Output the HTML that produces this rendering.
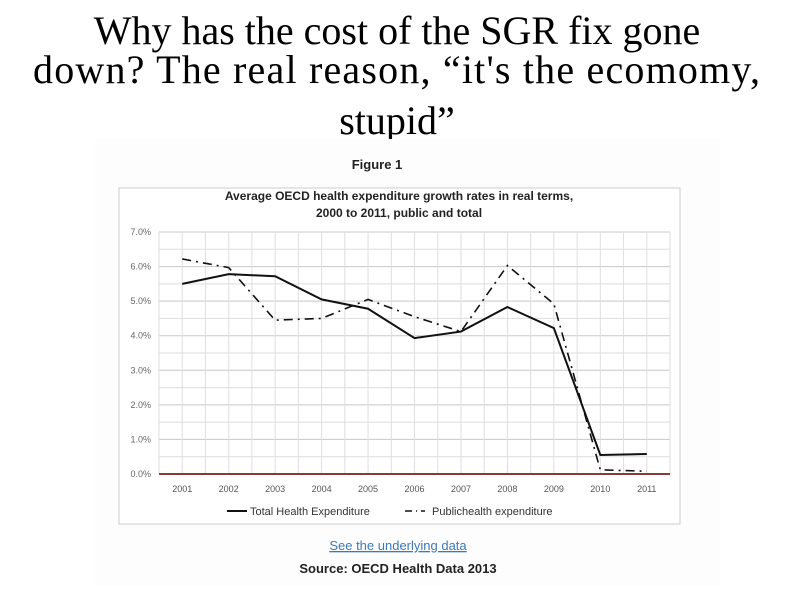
<!DOCTYPE html>
<html><head><meta charset="utf-8"><style>
body{margin:0;width:793px;height:596px;background:#fff;overflow:hidden;position:relative;font-family:"Liberation Sans",sans-serif}
#fig{position:absolute;left:95px;top:139px;width:625px;height:446px;background:#fdfdfd}
</style></head><body>
<svg width="793" height="140" style="position:absolute;left:0;top:0">
<g font-family="Liberation Serif, serif" font-size="40" fill="#000">
<text x="397" y="44" text-anchor="middle">Why has the cost of the SGR fix gone</text>
<text x="33" y="83" textLength="727" lengthAdjust="spacing">down? The real reason, “it's the ecomomy,</text>
<text x="397" y="134" text-anchor="middle">stupid”</text>
</g></svg>
<div id="fig"></div>
<svg id="chart" width="793" height="596" style="position:absolute;left:0;top:0">
<text x="377" y="169" text-anchor="middle" font-size="13" font-weight="bold" fill="#222">Figure 1</text>
<rect x="119" y="188" width="561" height="336" fill="#fff" stroke="#ccc"/>
<text x="399" y="200" text-anchor="middle" font-size="12" font-weight="bold" fill="#222">Average OECD health expenditure growth rates in real terms,</text>
<text x="399" y="217" text-anchor="middle" font-size="12" font-weight="bold" fill="#222">2000 to 2011, public and total</text>
<g id="grid"></g><g id="axes"></g><g id="series"></g>
<line x1="227" y1="511" x2="247" y2="511" stroke="#111" stroke-width="2"/>
<text x="250" y="515" font-size="11" fill="#333">Total Health Expenditure</text>
<line x1="405" y1="511" x2="425" y2="511" stroke="#111" stroke-width="1.5" stroke-dasharray="7,4,1,4"/>
<text x="432" y="515" font-size="11" fill="#333">Publichealth expenditure</text>
<text x="398" y="550" text-anchor="middle" font-size="13" fill="#3a7ab8" text-decoration="underline">See the underlying data</text>
<text x="398" y="573" text-anchor="middle" font-size="13" font-weight="bold" fill="#222">Source: OECD Health Data 2013</text>
</svg>
<script>
const years=["2001","2002","2003","2004","2005","2006","2007","2008","2009","2010","2011"];
const totalVals=[5.5,5.78,5.72,5.05,4.78,3.93,4.12,4.83,4.22,0.55,0.58];
const publicVals=[6.22,5.97,4.45,4.5,5.05,4.55,4.12,6.03,4.92,0.12,0.08];
const yTicks=[0,1,2,3,4,5,6,7];
const NS="http://www.w3.org/2000/svg";
const L=159,R=670,T=232,B=474;
const bw=(R-L)/years.length;
const xs=i=>L+bw*(i+0.5);
const ys=v=>B-(v/7)*(B-T);
function mk(tag,at,parent){const e=document.createElementNS(NS,tag);for(const k in at)e.setAttribute(k,at[k]);document.getElementById(parent).appendChild(e);return e;}
for(let v=0;v<=7;v+=0.5){const l=mk('line',{x1:L,x2:R,y1:ys(v),y2:ys(v),stroke:Number.isInteger(v)?'#c8c8c8':'#dedede','stroke-width':1},'grid');

}
for(let i=0;i<=years.length*2;i++){const x=L+bw*i/2;const l=mk('line',{x1:x,x2:x,y1:T,y2:B,stroke:'#dedede'},'grid');

}
yTicks.forEach(v=>{const t=mk('text',{x:L-8,y:ys(v)+3,'text-anchor':'end','font-size':9,fill:'#666'},'axes');t.textContent=v.toFixed(1)+'%';

});
years.forEach((y,i)=>{const t=mk('text',{x:xs(i),y:B+18,'text-anchor':'middle','font-size':9,fill:'#555'},'axes');t.textContent=y;

});
const ax=mk('line',{x1:L,x2:R,y1:B,y2:B,stroke:'#8b3a3a','stroke-width':2},'axes');


function path(vals){return vals.map((v,i)=>(i?'L':'M')+xs(i)+','+ys(v)).join(' ');}
const p1=mk('path',{d:path(totalVals),fill:'none',stroke:'#111','stroke-width':2},'series');


const p2=mk('path',{d:path(publicVals),fill:'none',stroke:'#111','stroke-width':1.6,'stroke-dasharray':'9,5,2,5'},'series');


</script>
</body></html>
